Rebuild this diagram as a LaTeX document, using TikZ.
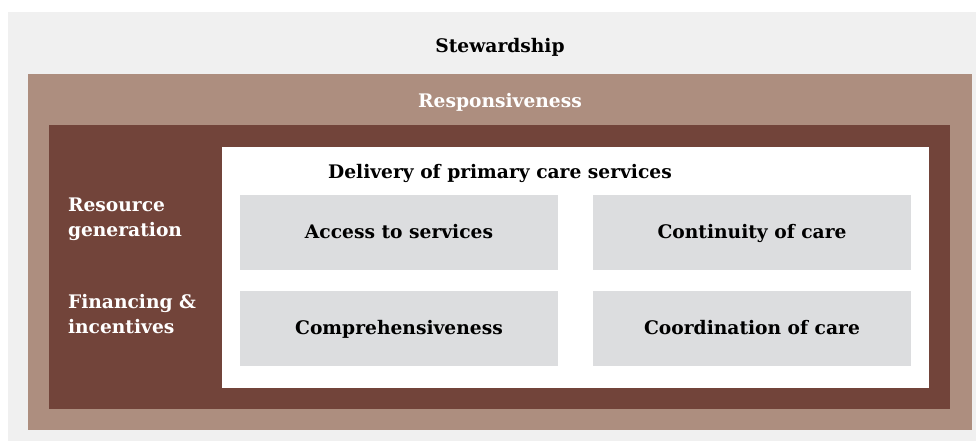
\documentclass[tikz,border=0pt]{standalone}
\usepackage{fontspec}
\setmainfont{DejaVu Serif}
\definecolor{stewardgray}{HTML}{F0F0F0}
\definecolor{responsivetan}{HTML}{AD8E7F}
\definecolor{resourcebrown}{HTML}{72443A}
\definecolor{servicegray}{HTML}{DCDDDF}
\begin{document}
\begin{tikzpicture}
  [x=0.75pt,y=-0.75pt,
   heading/.style={inner sep=0,outer sep=0,anchor=base,font=\fontsize{14}{19}\selectfont\bfseries},
   sidetext/.style={inner sep=0,outer sep=0,anchor=base west,align=left,text=white,
                    font=\fontsize{14}{19}\selectfont\bfseries},
   service/.style={rectangle,fill=servicegray,align=center,inner sep=0,outer sep=0,
                   minimum width=238.5pt,minimum height=56.25pt,
                   text height=11pt,text depth=2pt,
                   font=\fontsize{14}{19}\selectfont\bfseries}]
  \useasboundingbox (0,0) rectangle (976,441);
  % nested frames
  \fill[stewardgray] (8,12) rectangle (976,441);
  \fill[responsivetan] (28,74) rectangle (972,430);
  \fill[resourcebrown] (49,125) rectangle (950,409);
  \fill[white] (222,147) rectangle (929,388);
  \node[heading] (steward) at (500,53) {Stewardship};
  \node[heading,text=white] (respons) at (500,108) {Responsiveness};
  \node[heading] (delivery) at (500,179) {Delivery of primary care services};
  % base anchor sits on the last line
  \node[sidetext] (resource) at (68,237) {Resource\\generation};
  \node[sidetext] (financing) at (68,334) {Financing \&\\incentives};
  \node[service] (access) at (399,232.5) {Access to services};
  \node[service] (continuity) at (752,232.5) {Continuity of care};
  \node[service] (compre) at (399,328.5) {Comprehensiveness};
  \node[service] (coord) at (752,328.5) {Coordination of care};
\end{tikzpicture}
\end{document}
